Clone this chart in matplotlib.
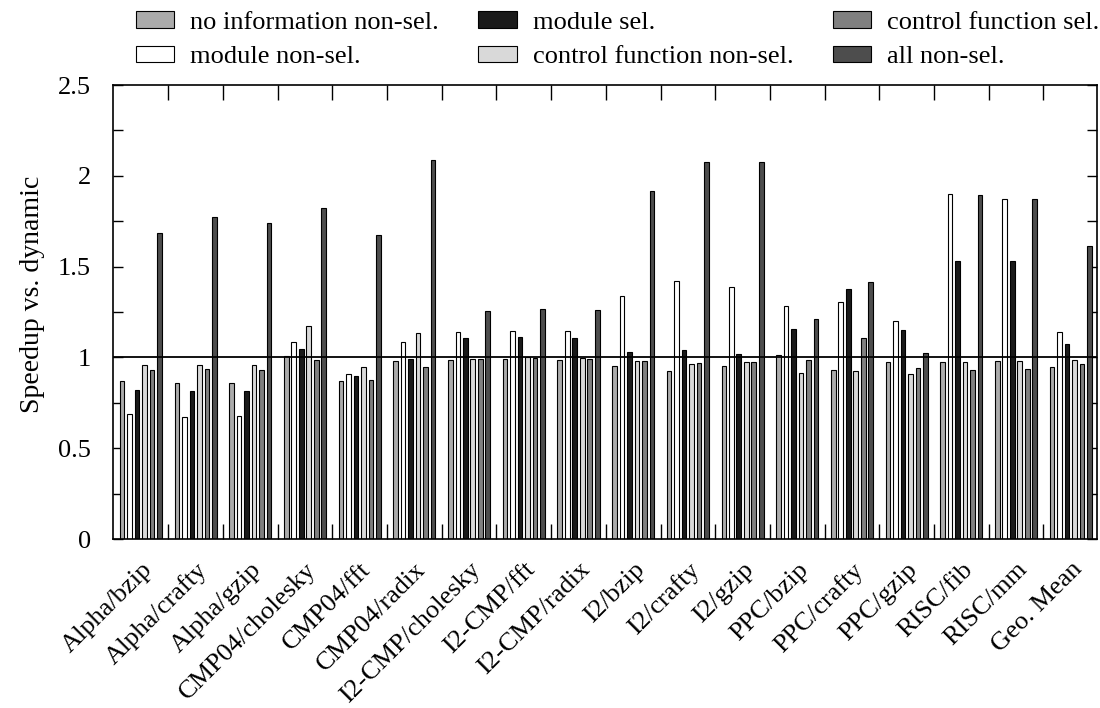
from matplotlib import pyplot as plt
from matplotlib.ticker import MultipleLocator, FixedLocator
import numpy as np

plt.rcParams['font.family'] = ['Liberation Serif', 'DejaVu Serif']
serif = ['Liberation Serif', 'DejaVu Serif']

# benchmarks (x groups)
benchmarks = ["Alpha/bzip", "Alpha/crafty", "Alpha/gzip", "CMP04/cholesky", "CMP04/fft",
              "CMP04/radix", "I2-CMP/cholesky", "I2-CMP/fft", "I2-CMP/radix", "I2/bzip",
              "I2/crafty", "I2/gzip", "PPC/bzip", "PPC/crafty", "PPC/gzip",
              "RISC/fib", "RISC/mm", "Geo. Mean"]

series_names = ["no information non-sel.", "module non-sel.", "module sel.",
                "control function non-sel.", "control function sel.", "all non-sel."]

# speedup values, one list per series
no_info_nonsel = [0.87, 0.86, 0.86, 1.01, 0.87, 0.98, 0.985, 0.993, 0.987, 0.95,
                  0.927, 0.951, 1.013, 0.93, 0.976, 0.976, 0.978, 0.947]
module_nonsel = [0.69, 0.67, 0.68, 1.083, 0.907, 1.085, 1.138, 1.144, 1.147, 1.338,
                 1.421, 1.386, 1.283, 1.307, 1.199, 1.898, 1.872, 1.142]
module_sel = [0.82, 0.815, 0.815, 1.048, 0.90, 0.991, 1.109, 1.112, 1.109, 1.028,
              1.043, 1.019, 1.156, 1.375, 1.149, 1.531, 1.531, 1.074]
cf_nonsel = [0.96, 0.96, 0.956, 1.173, 0.945, 1.133, 0.993, 1.004, 0.995, 0.98,
             0.962, 0.974, 0.912, 0.927, 0.909, 0.976, 0.978, 0.985]
cf_sel = [0.93, 0.934, 0.929, 0.984, 0.874, 0.945, 0.993, 0.995, 0.993, 0.98,
          0.971, 0.974, 0.987, 1.105, 0.943, 0.929, 0.934, 0.965]
all_nonsel = [1.683, 1.775, 1.738, 1.824, 1.674, 2.087, 1.256, 1.267, 1.259, 1.916,
              2.074, 2.074, 1.211, 1.413, 1.022, 1.896, 1.872, 1.613]

series = [no_info_nonsel, module_nonsel, module_sel, cf_nonsel, cf_sel, all_nonsel]
colors = ["#ababab", "#ffffff", "#1a1a1a", "#d9d9d9", "#808080", "#4d4d4d"]

fig = plt.figure(figsize=(11, 7.08), dpi=100)
ax = fig.add_axes([113 / 1100, 1 - 539 / 708, (1097 - 113) / 1100, (539 - 85) / 708])

x = np.arange(len(benchmarks))
step = 0.137
width = 0.085
for k in range(6):
    ax.bar(x + (k - 2.5) * step, series[k], width, color=colors[k],
           edgecolor="black", linewidth=0.8, label=series_names[k], zorder=2)

ax.axhline(1, color="black", linewidth=1.3, zorder=3)

ax.set_xlim(-0.51, len(benchmarks) - 0.52)
ax.set_ylim(0, 2.5)

ax.set_yticks([0, 0.5, 1, 1.5, 2, 2.5])
ax.set_yticklabels(["0", "0.5", "1", "1.5", "2", "2.5"], family=serif)
ax.yaxis.set_minor_locator(MultipleLocator(0.25))
ax.tick_params(axis="y", which="both", direction="in", length=7, width=1,
               left=True, right=True, labelsize=19, pad=16)

ax.set_xticks(x)
ax.set_xticklabels(benchmarks, rotation=45, ha="right", va="top",
                   rotation_mode="anchor", fontsize=19, family=serif)
ax.xaxis.set_minor_locator(FixedLocator(x[:-1] + 0.5))
ax.tick_params(axis="x", which="major", length=0, pad=14)
ax.tick_params(axis="x", which="minor", direction="in", length=11, width=1,
               top=True, bottom=True)

for sp in ax.spines.values():
    sp.set_linewidth(1.2)

fig.text(33 / 1100, 1 - 294 / 708, "Speedup vs. dynamic", rotation=90,
         ha="center", va="center", fontsize=20, family=serif)

fig.legend(loc="upper left", bbox_to_anchor=(136 / 1100, 1 - 11 / 708), ncol=3,
           frameon=False, prop={"family": serif, "size": 19},
           borderpad=0, borderaxespad=0,
           handlelength=1.45, handleheight=0.6, handletextpad=0.6,
           columnspacing=1.5, labelspacing=0.45)

fig.savefig("out.png", dpi=100)
